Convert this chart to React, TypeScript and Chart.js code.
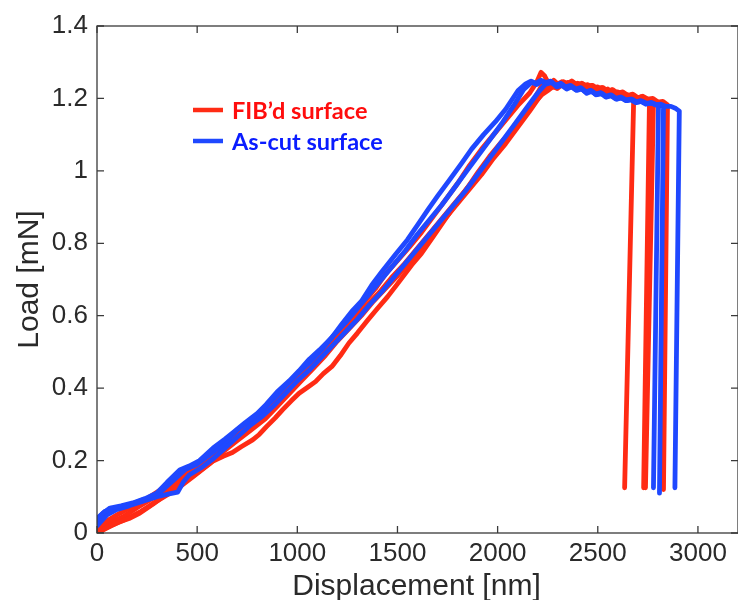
import { useEffect, useRef } from "react";
import { Chart, registerables } from "chart.js";

Chart.register(...registerables);

type P = [number, number];

const xTickValues = [0, 500, 1000, 1500, 2000, 2500, 3000];
const yTickValues = [0, 0.2, 0.4, 0.6, 0.8, 1, 1.2, 1.4];
const xTitle = "Displacement [nm]";
const yTitle = "Load [mN]";
const seriesNames = ["FIB’d surface", "As-cut surface"];

// FIB'd surface (red) curves: [displacement nm, load mN]
const fib1: P[] = [
  [0, 0], [50, 0.015], [100, 0.028], [160, 0.04], [214, 0.055], [280, 0.08], [348, 0.108], [400, 0.128],
  [447, 0.146], [510, 0.17], [577, 0.198], [630, 0.212], [676, 0.222], [720, 0.238], [777, 0.257],
  [810, 0.272], [845, 0.293], [890, 0.318], [926, 0.34], [970, 0.365], [1009, 0.386], [1050, 0.402],
  [1091, 0.418], [1130, 0.44], [1173, 0.46], [1215, 0.49], [1257, 0.524], [1300, 0.552], [1352, 0.588],
  [1400, 0.62], [1450, 0.652], [1500, 0.688], [1571, 0.74], [1620, 0.772], [1680, 0.82], [1740, 0.868],
  [1800, 0.915], [1860, 0.962], [1904, 0.998], [1960, 1.04], [2020, 1.08], [2068, 1.11], [2120, 1.15],
  [2187, 1.19], [2220, 1.21], [2251, 1.222], [2275, 1.232], [2300, 1.228], [2325, 1.24], [2350, 1.236],
  [2375, 1.244], [2400, 1.236], [2425, 1.24], [2450, 1.232], [2475, 1.236], [2500, 1.226], [2525, 1.23],
  [2550, 1.22], [2575, 1.224], [2600, 1.214], [2625, 1.218], [2650, 1.208], [2675, 1.212], [2700, 1.202],
  [2725, 1.206], [2750, 1.198], [2775, 1.2], [2800, 1.19], [2825, 1.192], [2848, 1.182], [2828, 0.12],
];

const fib2: P[] = [
  [0, 0.01], [40, 0.03], [100, 0.05], [180, 0.075], [250, 0.095], [320, 0.12], [400, 0.15], [470, 0.18],
  [540, 0.21], [600, 0.235], [660, 0.255], [720, 0.28], [790, 0.31], [850, 0.34], [920, 0.385],
  [980, 0.42], [1040, 0.455], [1100, 0.49], [1160, 0.525], [1220, 0.565], [1280, 0.6], [1330, 0.635],
  [1390, 0.675], [1440, 0.715], [1500, 0.752], [1560, 0.79], [1620, 0.83], [1680, 0.875], [1740, 0.92],
  [1800, 0.965], [1860, 1.015], [1920, 1.06], [1980, 1.1], [2040, 1.14], [2100, 1.18], [2160, 1.215],
  [2195, 1.245], [2217, 1.272], [2235, 1.262], [2250, 1.245], [2265, 1.232], [2280, 1.236], [2295, 1.228],
  [2310, 1.24], [2330, 1.236], [2350, 1.244], [2375, 1.238], [2400, 1.242], [2425, 1.234], [2450, 1.238],
  [2475, 1.228], [2500, 1.232], [2525, 1.222], [2550, 1.226], [2575, 1.215], [2600, 1.218], [2625, 1.206],
  [2650, 1.21], [2679, 1.192], [2634, 0.125],
];

const fib3: P[] = [
  [0, 0.005], [60, 0.025], [130, 0.045], [200, 0.07], [260, 0.09], [330, 0.115], [400, 0.14], [460, 0.165],
  [530, 0.19], [600, 0.22], [670, 0.25], [740, 0.28], [800, 0.31], [860, 0.335], [920, 0.37], [980, 0.405],
  [1040, 0.44], [1100, 0.48], [1170, 0.52], [1230, 0.555], [1290, 0.59], [1350, 0.63], [1410, 0.665],
  [1470, 0.705], [1530, 0.74], [1590, 0.78], [1650, 0.82], [1710, 0.86], [1770, 0.9], [1830, 0.94],
  [1890, 0.98], [1950, 1.02], [2010, 1.065], [2070, 1.105], [2130, 1.15], [2180, 1.195], [2220, 1.235],
  [2250, 1.248], [2270, 1.238], [2290, 1.242], [2310, 1.236], [2330, 1.246], [2355, 1.238], [2380, 1.242],
  [2405, 1.232], [2430, 1.236], [2455, 1.226], [2480, 1.23], [2505, 1.22], [2530, 1.224], [2555, 1.214],
  [2580, 1.218], [2605, 1.21], [2630, 1.212], [2655, 1.204], [2680, 1.208], [2705, 1.198], [2730, 1.2],
  [2758, 1.19], [2729, 0.125],
];

const fib4: P[] = [
  [0, 0], [70, 0.02], [150, 0.04], [220, 0.06], [290, 0.085], [350, 0.105], [420, 0.13], [490, 0.16],
  [560, 0.19], [630, 0.225], [700, 0.255], [770, 0.285], [840, 0.315], [900, 0.35], [960, 0.385],
  [1020, 0.42], [1080, 0.455], [1140, 0.49], [1200, 0.53], [1260, 0.565], [1320, 0.6], [1380, 0.64],
  [1440, 0.675], [1500, 0.71], [1560, 0.75], [1620, 0.79], [1680, 0.83], [1740, 0.87], [1800, 0.91],
  [1860, 0.95], [1920, 0.99], [1980, 1.035], [2040, 1.075], [2100, 1.12], [2160, 1.165], [2210, 1.205],
  [2250, 1.235], [2280, 1.25], [2300, 1.24], [2320, 1.246], [2345, 1.24], [2370, 1.248], [2395, 1.238],
  [2420, 1.242], [2445, 1.232], [2470, 1.236], [2495, 1.226], [2520, 1.23], [2545, 1.22], [2570, 1.224],
  [2595, 1.212], [2620, 1.216], [2645, 1.206], [2670, 1.21], [2695, 1.2], [2720, 1.205], [2750, 1.196],
  [2778, 1.188], [2738, 0.125],
];

// As-cut surface (blue) curves
const asCut1: P[] = [
  [0, 0.036], [30, 0.055], [65, 0.069], [120, 0.075], [179, 0.083], [240, 0.095], [298, 0.11], [350, 0.14],
  [413, 0.174], [460, 0.185], [512, 0.2], [580, 0.235], [640, 0.26], [676, 0.276], [740, 0.305],
  [800, 0.33], [845, 0.355], [900, 0.39], [960, 0.42], [1009, 0.448], [1060, 0.48], [1110, 0.505],
  [1173, 0.54], [1220, 0.575], [1272, 0.612], [1320, 0.64], [1372, 0.685], [1420, 0.72], [1491, 0.77],
  [1550, 0.81], [1600, 0.85], [1655, 0.895], [1700, 0.93], [1760, 0.975], [1819, 1.02], [1870, 1.06],
  [1930, 1.1], [1988, 1.135], [2040, 1.17], [2102, 1.222], [2140, 1.24], [2167, 1.248], [2190, 1.242],
  [2215, 1.25], [2240, 1.244], [2265, 1.248], [2290, 1.236], [2315, 1.24], [2340, 1.23], [2365, 1.234],
  [2390, 1.224], [2415, 1.228], [2440, 1.218], [2465, 1.222], [2490, 1.212], [2515, 1.216], [2540, 1.206],
  [2565, 1.21], [2590, 1.2], [2615, 1.204], [2640, 1.196], [2665, 1.198], [2690, 1.19], [2715, 1.194],
  [2740, 1.186], [2765, 1.188], [2790, 1.182], [2815, 1.184], [2840, 1.178], [2865, 1.178], [2890, 1.172],
  [2907, 1.165], [2885, 0.125],
];

const asCut2: P[] = [
  [0, 0.04], [40, 0.06], [80, 0.065], [150, 0.075], [220, 0.09], [290, 0.1], [350, 0.13], [400, 0.155],
  [440, 0.175], [500, 0.19], [560, 0.215], [630, 0.245], [700, 0.285], [760, 0.31], [820, 0.335],
  [880, 0.37], [940, 0.405], [1000, 0.44], [1060, 0.47], [1120, 0.505], [1180, 0.545], [1240, 0.58],
  [1300, 0.62], [1360, 0.66], [1420, 0.7], [1480, 0.74], [1540, 0.78], [1600, 0.825], [1660, 0.865],
  [1720, 0.905], [1780, 0.95], [1840, 0.995], [1900, 1.04], [1960, 1.085], [2020, 1.13], [2080, 1.18],
  [2130, 1.225], [2170, 1.245], [2195, 1.238], [2220, 1.248], [2245, 1.24], [2270, 1.244], [2295, 1.232],
  [2320, 1.236], [2345, 1.226], [2370, 1.232], [2395, 1.222], [2420, 1.226], [2445, 1.214], [2470, 1.22],
  [2495, 1.21], [2520, 1.214], [2545, 1.204], [2570, 1.208], [2595, 1.198], [2620, 1.202], [2645, 1.194],
  [2670, 1.198], [2695, 1.19], [2720, 1.192], [2745, 1.186], [2770, 1.188], [2795, 1.182], [2828, 1.178],
  [2808, 0.11],
];

const asCut3: P[] = [
  [0, 0.02], [50, 0.05], [100, 0.065], [160, 0.075], [230, 0.088], [300, 0.1], [360, 0.108], [403, 0.113],
  [430, 0.14], [460, 0.16], [520, 0.18], [580, 0.205], [640, 0.235], [700, 0.265], [760, 0.295],
  [820, 0.32], [880, 0.35], [940, 0.385], [1000, 0.42], [1060, 0.45], [1120, 0.485], [1180, 0.52],
  [1240, 0.555], [1300, 0.59], [1360, 0.63], [1420, 0.665], [1480, 0.705], [1540, 0.745], [1600, 0.785],
  [1660, 0.825], [1720, 0.865], [1780, 0.905], [1840, 0.945], [1900, 0.99], [1960, 1.035], [2020, 1.08],
  [2080, 1.125], [2140, 1.17], [2200, 1.215], [2240, 1.24], [2265, 1.246], [2290, 1.236], [2315, 1.242],
  [2340, 1.232], [2365, 1.236], [2390, 1.226], [2415, 1.23], [2440, 1.218], [2465, 1.222], [2490, 1.21],
  [2515, 1.214], [2540, 1.204], [2565, 1.208], [2590, 1.198], [2615, 1.202], [2640, 1.194], [2665, 1.196],
  [2690, 1.188], [2715, 1.192], [2740, 1.184], [2765, 1.188], [2803, 1.18], [2778, 0.125],
];

const fibSeries = [fib1, fib2, fib3, fib4];
const asCutSeries = [asCut1, asCut2, asCut3];

const RED = "#ff2b14";
const BLUE = "#1f48ff";
const AXIS_COLOR = "#3a3a3a";
const TEXT_COLOR = "#2a2a2a";
const FONT = '"Liberation Sans", Arial, Helvetica, sans-serif';

const framePlugin = {
  id: "frame",
  afterDatasetsDraw(chart: any) {
    const { ctx, chartArea: a, scales } = chart;
    ctx.save();
    ctx.strokeStyle = AXIS_COLOR;
    ctx.lineWidth = 1.3;
    ctx.strokeRect(a.left, a.top, a.right - a.left, a.bottom - a.top);
    const L = 7;
    ctx.beginPath();
    xTickValues.forEach((v) => {
      const px = scales.x.getPixelForValue(v);
      ctx.moveTo(px, a.bottom);
      ctx.lineTo(px, a.bottom - L);
      ctx.moveTo(px, a.top);
      ctx.lineTo(px, a.top + L);
    });
    yTickValues.forEach((v) => {
      const py = scales.y.getPixelForValue(v);
      ctx.moveTo(a.left, py);
      ctx.lineTo(a.left + L, py);
      ctx.moveTo(a.right, py);
      ctx.lineTo(a.right - L, py);
    });
    ctx.stroke();

    // axis titles
    ctx.fillStyle = TEXT_COLOR;
    ctx.font = `30px ${FONT}`;
    ctx.textAlign = "center";
    ctx.textBaseline = "alphabetic";
    ctx.fillText(xTitle, (a.left + a.right) / 2 - 1, a.bottom + 62);
    ctx.save();
    ctx.translate(a.left - 59, (a.top + a.bottom) / 2);
    ctx.rotate(-Math.PI / 2);
    ctx.fillText(yTitle, 0, 0);
    ctx.restore();

    // legend
    const lx = a.left + 96;
    const ly = [a.top + 84, a.top + 115];
    const colors = [RED, BLUE];
    const textColors = ["#ff0d0d", "#0a1cff"];
    ctx.font = `bold 23.5px Lato, "Open Sans", sans-serif`;
    ctx.textAlign = "left";
    ctx.textBaseline = "middle";
    seriesNames.forEach((name, i) => {
      ctx.strokeStyle = colors[i];
      ctx.lineWidth = 4.5;
      ctx.beginPath();
      ctx.moveTo(lx, ly[i]);
      ctx.lineTo(lx + 30, ly[i]);
      ctx.stroke();
      ctx.fillStyle = textColors[i];
      ctx.fillText(name, lx + 39, ly[i] + 1);
    });
    ctx.restore();
  },
};

export default function App() {
  const ref = useRef<HTMLCanvasElement | null>(null);

  useEffect(() => {
    if (!ref.current) return;
    const mk = (pts: P[], color: string) => ({
      data: pts.map(([x, y]) => ({ x, y })),
      borderColor: color,
      backgroundColor: color,
      borderWidth: 4.8,
      pointRadius: 0,
      tension: 0,
      fill: false,
      borderJoinStyle: "round" as const,
      borderCapStyle: "round" as const,
    });
    const datasets = [
      ...asCutSeries.map((s) => mk(s, BLUE)),
      ...fibSeries.map((s) => mk(s, RED)),
    ];
    const chart = new Chart(ref.current, {
      type: "line",
      data: { datasets },
      options: {
        animation: false,
        responsive: false,
        devicePixelRatio: 1,
        layout: { padding: { left: 0, top: 26, right: -3, bottom: 0 } },
        plugins: { legend: { display: false }, tooltip: { enabled: false } },
        scales: {
          x: {
            type: "linear",
            min: 0,
            max: 3200,
            grid: { display: false, drawTicks: false },
            border: { display: false },
            afterBuildTicks: (axis: any) => {
              axis.ticks = xTickValues.map((v) => ({ value: v }));
            },
            afterFit: (axis: any) => {
              axis.height = 67;
            },
            ticks: {
              padding: 5,
              color: TEXT_COLOR,
              font: { family: FONT, size: 26, lineHeight: 1.2 },
              maxRotation: 0,
              autoSkip: false,
              callback: (v: any) => String(v),
            },
          },
          y: {
            type: "linear",
            min: 0,
            max: 1.4,
            grid: { display: false, drawTicks: false },
            border: { display: false },
            afterBuildTicks: (axis: any) => {
              axis.ticks = yTickValues.map((v) => ({ value: v }));
            },
            afterFit: (axis: any) => {
              axis.width = 97;
            },
            ticks: {
              padding: 9,
              color: TEXT_COLOR,
              font: { family: FONT, size: 26, lineHeight: 1.2 },
              autoSkip: false,
              callback: (v: any) => String(v),
            },
          },
        },
      },
      plugins: [framePlugin],
    });
    return () => chart.destroy();
  }, []);

  return (
    <div style={{ position: "fixed", left: 0, top: 0, width: 738, height: 600, background: "#fff" }}>
      <canvas ref={ref} width={738} height={600} style={{ display: "block" }} />
    </div>
  );
}
